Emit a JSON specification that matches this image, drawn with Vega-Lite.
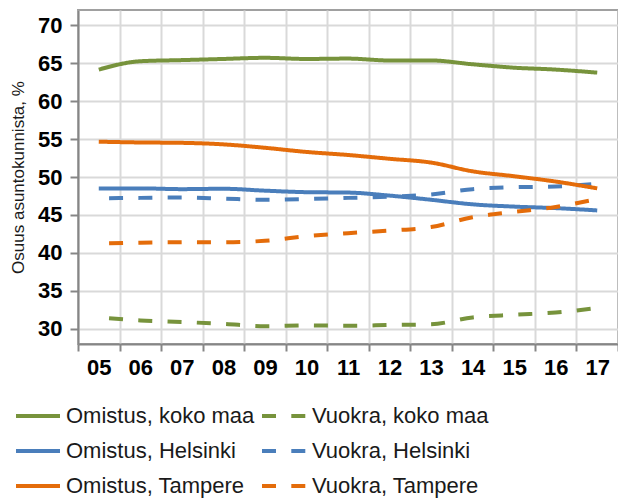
{
  "$schema": "https://vega.github.io/schema/vega-lite/v6.json",
  "width": 540,
  "height": 334,
  "autosize": {"type": "none"},
  "padding": {"left": 78, "top": 10, "right": 0, "bottom": 154},
  "background": "white",
  "config": {"view": {"stroke": "#a0a0a0", "strokeWidth": 2}, "font": "Liberation Sans"},
  "data": {"values": [
    {"year": "05", "series": "Omistus, koko maa", "value": 64.15},
    {"year": "06", "series": "Omistus, koko maa", "value": 65.25},
    {"year": "07", "series": "Omistus, koko maa", "value": 65.4},
    {"year": "08", "series": "Omistus, koko maa", "value": 65.55},
    {"year": "09", "series": "Omistus, koko maa", "value": 65.7},
    {"year": "10", "series": "Omistus, koko maa", "value": 65.55},
    {"year": "11", "series": "Omistus, koko maa", "value": 65.6},
    {"year": "12", "series": "Omistus, koko maa", "value": 65.35},
    {"year": "13", "series": "Omistus, koko maa", "value": 65.35},
    {"year": "14", "series": "Omistus, koko maa", "value": 64.85},
    {"year": "15", "series": "Omistus, koko maa", "value": 64.4},
    {"year": "16", "series": "Omistus, koko maa", "value": 64.15},
    {"year": "17", "series": "Omistus, koko maa", "value": 63.75},
    {"year": "05", "series": "Vuokra, koko maa", "value": 31.5},
    {"year": "06", "series": "Vuokra, koko maa", "value": 31.1},
    {"year": "07", "series": "Vuokra, koko maa", "value": 30.9},
    {"year": "08", "series": "Vuokra, koko maa", "value": 30.65},
    {"year": "09", "series": "Vuokra, koko maa", "value": 30.35},
    {"year": "10", "series": "Vuokra, koko maa", "value": 30.45},
    {"year": "11", "series": "Vuokra, koko maa", "value": 30.4},
    {"year": "12", "series": "Vuokra, koko maa", "value": 30.5},
    {"year": "13", "series": "Vuokra, koko maa", "value": 30.6},
    {"year": "14", "series": "Vuokra, koko maa", "value": 31.5},
    {"year": "15", "series": "Vuokra, koko maa", "value": 31.85},
    {"year": "16", "series": "Vuokra, koko maa", "value": 32.15},
    {"year": "17", "series": "Vuokra, koko maa", "value": 32.75},
    {"year": "05", "series": "Omistus, Helsinki", "value": 48.5},
    {"year": "06", "series": "Omistus, Helsinki", "value": 48.5},
    {"year": "07", "series": "Omistus, Helsinki", "value": 48.4},
    {"year": "08", "series": "Omistus, Helsinki", "value": 48.45},
    {"year": "09", "series": "Omistus, Helsinki", "value": 48.2},
    {"year": "10", "series": "Omistus, Helsinki", "value": 48.0},
    {"year": "11", "series": "Omistus, Helsinki", "value": 47.95},
    {"year": "12", "series": "Omistus, Helsinki", "value": 47.55},
    {"year": "13", "series": "Omistus, Helsinki", "value": 47.0},
    {"year": "14", "series": "Omistus, Helsinki", "value": 46.4},
    {"year": "15", "series": "Omistus, Helsinki", "value": 46.1},
    {"year": "16", "series": "Omistus, Helsinki", "value": 45.9},
    {"year": "17", "series": "Omistus, Helsinki", "value": 45.6},
    {"year": "05", "series": "Vuokra, Helsinki", "value": 47.2},
    {"year": "06", "series": "Vuokra, Helsinki", "value": 47.25},
    {"year": "07", "series": "Vuokra, Helsinki", "value": 47.3},
    {"year": "08", "series": "Vuokra, Helsinki", "value": 47.15},
    {"year": "09", "series": "Vuokra, Helsinki", "value": 47.0},
    {"year": "10", "series": "Vuokra, Helsinki", "value": 47.1},
    {"year": "11", "series": "Vuokra, Helsinki", "value": 47.25},
    {"year": "12", "series": "Vuokra, Helsinki", "value": 47.4},
    {"year": "13", "series": "Vuokra, Helsinki", "value": 47.7},
    {"year": "14", "series": "Vuokra, Helsinki", "value": 48.4},
    {"year": "15", "series": "Vuokra, Helsinki", "value": 48.65},
    {"year": "16", "series": "Vuokra, Helsinki", "value": 48.75},
    {"year": "17", "series": "Vuokra, Helsinki", "value": 49.1},
    {"year": "05", "series": "Omistus, Tampere", "value": 54.65},
    {"year": "06", "series": "Omistus, Tampere", "value": 54.55},
    {"year": "07", "series": "Omistus, Tampere", "value": 54.5},
    {"year": "08", "series": "Omistus, Tampere", "value": 54.3},
    {"year": "09", "series": "Omistus, Tampere", "value": 53.85},
    {"year": "10", "series": "Omistus, Tampere", "value": 53.3},
    {"year": "11", "series": "Omistus, Tampere", "value": 52.9},
    {"year": "12", "series": "Omistus, Tampere", "value": 52.4},
    {"year": "13", "series": "Omistus, Tampere", "value": 51.9},
    {"year": "14", "series": "Omistus, Tampere", "value": 50.75},
    {"year": "15", "series": "Omistus, Tampere", "value": 50.1},
    {"year": "16", "series": "Omistus, Tampere", "value": 49.4},
    {"year": "17", "series": "Omistus, Tampere", "value": 48.5},
    {"year": "05", "series": "Vuokra, Tampere", "value": 41.25},
    {"year": "06", "series": "Vuokra, Tampere", "value": 41.35},
    {"year": "07", "series": "Vuokra, Tampere", "value": 41.4},
    {"year": "08", "series": "Vuokra, Tampere", "value": 41.4},
    {"year": "09", "series": "Vuokra, Tampere", "value": 41.6},
    {"year": "10", "series": "Vuokra, Tampere", "value": 42.2},
    {"year": "11", "series": "Vuokra, Tampere", "value": 42.6},
    {"year": "12", "series": "Vuokra, Tampere", "value": 42.95},
    {"year": "13", "series": "Vuokra, Tampere", "value": 43.4},
    {"year": "14", "series": "Vuokra, Tampere", "value": 44.7},
    {"year": "15", "series": "Vuokra, Tampere", "value": 45.4},
    {"year": "16", "series": "Vuokra, Tampere", "value": 46.05},
    {"year": "17", "series": "Vuokra, Tampere", "value": 47.1}
  ]},
  "mark": {"type": "line", "strokeWidth": 4, "interpolate": "monotone", "strokeDashOffset": 19, "strokeCap": "butt"},
  "encoding": {
    "x": {
      "field": "year", "type": "ordinal", "bandPosition": 0.5,
      "scale": {"type": "band", "paddingInner": 0, "paddingOuter": 0},
      "axis": {
        "title": null, "tickBand": "extent", "labelAngle": 0,
        "labelFont": "Liberation Sans", "labelFontSize": 22, "labelFontWeight": "bold", "labelColor": "#000000",
        "labelPadding": 6, "tickSize": 7, "tickColor": "#868686", "tickWidth": 2,
        "domainColor": "#868686", "domainWidth": 2,
        "grid": true, "gridColor": "#d9d9d9", "gridWidth": 2
      }
    },
    "y": {
      "field": "value", "type": "quantitative",
      "scale": {"domain": [28, 72], "nice": false, "zero": false},
      "axis": {
        "title": "Osuus asuntokunnista, %", "titleFont": "Liberation Sans", "titleFontSize": 17, "titleFontWeight": "normal",
        "titleColor": "#1a1a1a", "titlePadding": 10,
        "values": [30, 35, 40, 45, 50, 55, 60, 65, 70],
        "labelFont": "Liberation Sans", "labelFontSize": 22, "labelFontWeight": "bold", "labelColor": "#000000",
        "labelPadding": 8, "tickSize": 8, "tickColor": "#868686", "tickWidth": 2,
        "domainColor": "#868686", "domainWidth": 2,
        "grid": true, "gridWidth": 2, "gridColor": "#d9d9d9"
      }
    },
    "color": {
      "field": "series", "type": "nominal",
      "scale": {
        "domain": ["Omistus, koko maa", "Omistus, Helsinki", "Omistus, Tampere", "Vuokra, koko maa", "Vuokra, Helsinki", "Vuokra, Tampere"],
        "range": ["#77933C", "#4A7EBB", "#E46C0A", "#77933C", "#4A7EBB", "#E46C0A"]
      },
      "legend": {
        "orient": "none", "legendX": -64, "legendY": 382, "columns": 2, "columnPadding": -1, "rowPadding": 0,
        "title": null, "labelFont": "Liberation Sans", "labelFontSize": 22, "labelColor": "#1a1a1a", "labelLimit": 400,
        "symbolType": "stroke", "symbolSize": 1936, "symbolStrokeWidth": 4
      }
    },
    "strokeDash": {
      "field": "series", "type": "nominal",
      "scale": {
        "domain": ["Omistus, koko maa", "Omistus, Helsinki", "Omistus, Tampere", "Vuokra, koko maa", "Vuokra, Helsinki", "Vuokra, Tampere"],
        "range": [[1, 0], [1, 0], [1, 0], [14, 15.3], [14, 15.3], [14, 15.3]]
      }
    }
  }
}
